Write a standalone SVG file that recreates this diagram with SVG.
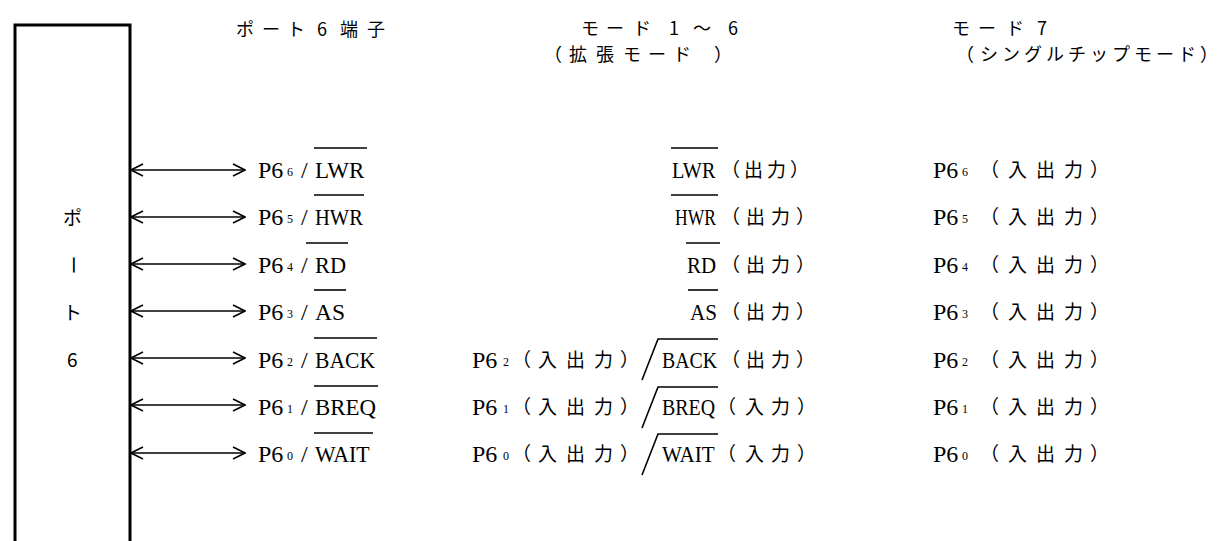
<svg xmlns="http://www.w3.org/2000/svg" width="1219" height="541" viewBox="0 0 1219 541">
<defs>
<style>
.jp{font-family:"Noto Sans CJK JP","Noto Sans CJK SC",sans-serif;font-size:19px;fill:#000}
.hd{font-family:"Noto Sans CJK JP","Noto Sans CJK SC",sans-serif;font-size:18px;fill:#000}
.lat{font-family:"Liberation Serif",serif;font-size:24px;fill:#000}
.sub{font-family:"Liberation Serif",serif;font-size:12px;fill:#000}
.ol{stroke:#000;stroke-width:1.6;fill:none}
.arr{stroke:#000;stroke-width:1.6;fill:none;marker-start:url(#ah);marker-end:url(#ah)}
</style>
<marker id="ah" viewBox="0 0 14 14" refX="13" refY="7" markerWidth="14" markerHeight="14" markerUnits="userSpaceOnUse" orient="auto-start-reverse">
<path d="M1,1 L13,7 L1,13" fill="none" stroke="#000" stroke-width="1.6"/>
</marker>
</defs>
<rect width="1219" height="541" fill="#fff"/>

<g id="port6">
<path d="M15,541 V25 H130 V541" fill="none" stroke="#000" stroke-width="3"/>
<text class="jp" x="63" y="225">ポ</text>
<text class="jp" transform="translate(72,265) rotate(90)" x="-9.5" y="6.5">ー</text>
<text class="jp" x="63" y="320">ト</text>
<text class="jp" x="67" y="367">6</text>
</g>

<g id="headers">
<text class="hd" x="236 262 287 317 340 367" y="36">ポート6端子</text>
<text class="hd" x="581 606 633 669 693 728" y="35">モード1〜6</text>
<text class="hd" x="544 569 596 623 648 673 714" y="61">（拡張モード）</text>
<text class="hd" x="952 978 1006 1037" y="35">モード7</text>
<text class="hd" x="956 980 1002 1024 1046 1068 1090 1112 1134 1156 1178 1200" y="61">（シングルチップモード）</text>
</g>

<g id="connectors">
<line class="arr" x1="131" y1="170" x2="245" y2="170"/>
<line class="arr" x1="131" y1="217" x2="245" y2="217"/>
<line class="arr" x1="131" y1="264" x2="245" y2="264"/>
<line class="arr" x1="131" y1="311" x2="245" y2="311"/>
<line class="arr" x1="131" y1="358" x2="245" y2="358"/>
<line class="arr" x1="131" y1="405" x2="245" y2="405"/>
<line class="arr" x1="131" y1="453" x2="245" y2="453"/>
</g>

<g id="row6">
<text class="lat" x="258" y="178">P6</text>
<text class="sub" x="287" y="176">6</text>
<text class="lat" x="301" y="178">/</text>
<text class="lat" transform="translate(315,178) scale(0.957,1)">LWR</text>
<path class="ol" d="M314,148 H367"/>
<text class="lat" transform="translate(672,178) scale(0.844,1)">LWR</text>
<path class="ol" d="M671,148 H718"/>
<text class="jp" x="721 744 767 790" y="177">（出力）</text>
<text class="lat" x="933" y="178">P6</text>
<text class="sub" x="962" y="176">6</text>
<text class="jp" x="980 1008 1036 1064 1090" y="177">（入出力）</text>
</g>

<g id="row5">
<text class="lat" x="258" y="225">P6</text>
<text class="sub" x="287" y="223">5</text>
<text class="lat" x="301" y="225">/</text>
<text class="lat" transform="translate(315,225) scale(0.857,1)">HWR</text>
<path class="ol" d="M314,195 H364"/>
<text class="lat" transform="translate(675,225) scale(0.732,1)">HWR</text>
<path class="ol" d="M671,195 H718"/>
<text class="jp" x="721 746 771 796" y="224">（出力）</text>
<text class="lat" x="933" y="225">P6</text>
<text class="sub" x="962" y="223">5</text>
<text class="jp" x="980 1008 1036 1064 1090" y="224">（入出力）</text>
</g>

<g id="row4">
<text class="lat" x="258" y="273">P6</text>
<text class="sub" x="287" y="271">4</text>
<text class="lat" x="301" y="273">/</text>
<text class="lat" transform="translate(315,273) scale(0.93,1)">RD</text>
<path class="ol" d="M306,243 H348"/>
<text class="lat" transform="translate(687,273) scale(0.87,1)">RD</text>
<path class="ol" d="M686,243 H720"/>
<text class="jp" x="721 746 771 796" y="272">（出力）</text>
<text class="lat" x="933" y="273">P6</text>
<text class="sub" x="962" y="271">4</text>
<text class="jp" x="980 1008 1036 1064 1090" y="272">（入出力）</text>
</g>

<g id="row3">
<text class="lat" x="258" y="320">P6</text>
<text class="sub" x="287" y="318">3</text>
<text class="lat" x="301" y="320">/</text>
<text class="lat" transform="translate(315,320) scale(0.98,1)">AS</text>
<path class="ol" d="M314,290 H346"/>
<text class="lat" transform="translate(690,320) scale(0.88,1)">AS</text>
<path class="ol" d="M688,290 H718"/>
<text class="jp" x="721 746 771 796" y="319">（出力）</text>
<text class="lat" x="933" y="320">P6</text>
<text class="sub" x="962" y="318">3</text>
<text class="jp" x="980 1008 1036 1064 1090" y="319">（入出力）</text>
</g>

<g id="row2">
<text class="lat" x="258" y="368">P6</text>
<text class="sub" x="287" y="366">2</text>
<text class="lat" x="301" y="368">/</text>
<text class="lat" transform="translate(315,368) scale(0.9,1)">BACK</text>
<path class="ol" d="M314,338 H377"/>
<text class="lat" x="472" y="368">P6</text>
<text class="sub" x="503" y="366">2</text>
<text class="jp" x="512 538 566 594 620" y="367">（入出力）</text>
<path class="ol" d="M642,380 L658,339 H718"/>
<text class="lat" transform="translate(662,368) scale(0.825,1)">BACK</text>
<text class="jp" x="721 746 771 796" y="367">（出力）</text>
<text class="lat" x="933" y="368">P6</text>
<text class="sub" x="962" y="366">2</text>
<text class="jp" x="980 1008 1036 1064 1090" y="367">（入出力）</text>
</g>

<g id="row1">
<text class="lat" x="258" y="415">P6</text>
<text class="sub" x="287" y="413">1</text>
<text class="lat" x="301" y="415">/</text>
<text class="lat" transform="translate(315,415) scale(0.953,1)">BREQ</text>
<path class="ol" d="M314,386 H378"/>
<text class="lat" x="472" y="415">P6</text>
<text class="sub" x="503" y="413">1</text>
<text class="jp" x="512 538 566 594 620" y="414">（入出力）</text>
<path class="ol" d="M642,428 L658,387 H718"/>
<text class="lat" transform="translate(662,415) scale(0.83,1)">BREQ</text>
<text class="jp" x="717 745 771 797" y="414">（入力）</text>
<text class="lat" x="933" y="415">P6</text>
<text class="sub" x="962" y="413">1</text>
<text class="jp" x="980 1008 1036 1064 1090" y="414">（入出力）</text>
</g>

<g id="row0">
<text class="lat" x="258" y="462">P6</text>
<text class="sub" x="287" y="460">0</text>
<text class="lat" x="301" y="462">/</text>
<text class="lat" transform="translate(315,462) scale(0.91,1)">WAIT</text>
<path class="ol" d="M314,433 H373"/>
<text class="lat" x="472" y="462">P6</text>
<text class="sub" x="503" y="460">0</text>
<text class="jp" x="512 538 566 594 620" y="461">（入出力）</text>
<path class="ol" d="M642,475 L658,434 H718"/>
<text class="lat" transform="translate(662,462) scale(0.88,1)">WAIT</text>
<text class="jp" x="717 745 771 797" y="461">（入力）</text>
<text class="lat" x="933" y="462">P6</text>
<text class="sub" x="962" y="460">0</text>
<text class="jp" x="980 1008 1036 1064 1090" y="461">（入出力）</text>
</g>
</svg>
